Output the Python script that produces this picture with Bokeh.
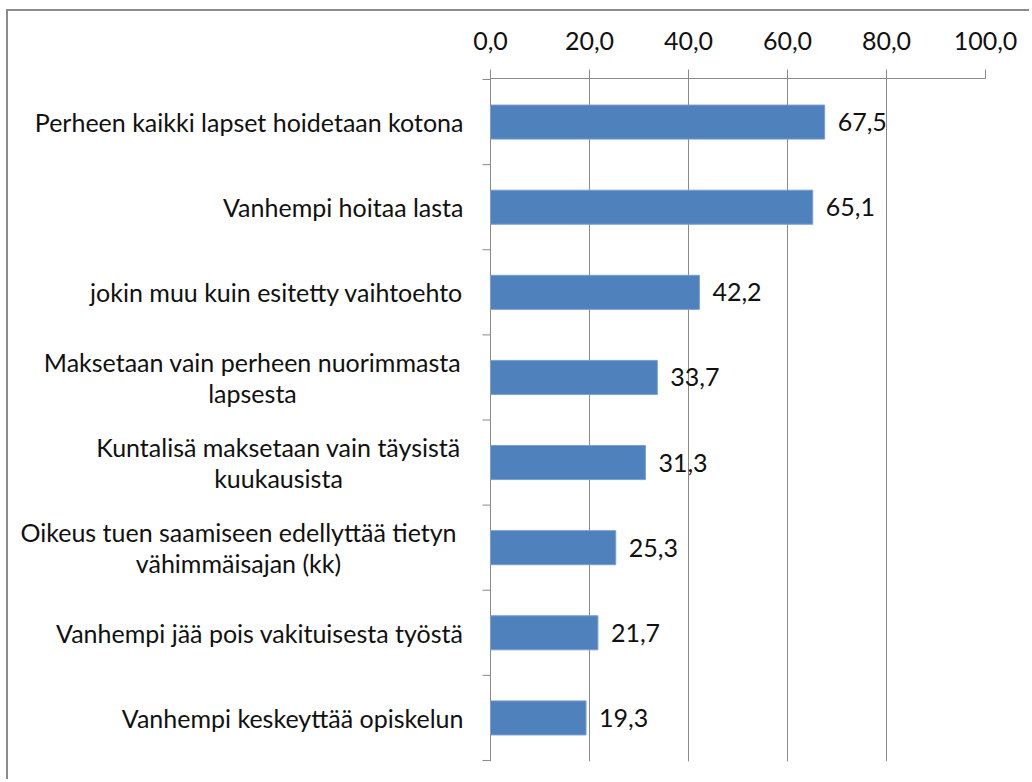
import math
from bokeh.plotting import figure
from bokeh.models import FixedTicker, Range1d
from bokeh.core.properties import value
from bokeh.embed import file_html
from bokeh.resources import INLINE

categories = [
    "Perheen kaikki lapset hoidetaan kotona",
    "Vanhempi hoitaa lasta",
    "jokin muu kuin esitetty vaihtoehto",
    "Maksetaan vain perheen nuorimmasta\nlapsesta",
    "Kuntalisä maksetaan vain täysistä\nkuukausista",
    "Oikeus tuen saamiseen edellyttää tietyn\nvähimmäisajan (kk)",
    "Vanhempi jää pois vakituisesta työstä",
    "Vanhempi keskeyttää opiskelun",
]
values = [67.5, 65.1, 42.2, 33.7, 31.3, 25.3, 21.7, 19.3]
x_ticks = [0, 20, 40, 60, 80, 100]

# layout (pixels)
W, H = 1023, 770
MB_RIGHT, MB_TOP, MB_BOTTOM = 46, 67, 20
AXIS_PX = 482                 # distance from frame left edge to the category axis (x = 0)
LABEL_GAP = 27                # gap between single-line category labels and the axis
WRAP_CENTER = {3: 238, 4: 212, 5: 252}   # centre of centre-justified wrapped labels, px left of axis

FONT = "Lato"
FS = "25px"
GRID = "#8a8a8a"
BAR = "#4F81BD"
TXT = "#111111"

n = len(categories)
centers = [i + 0.5 for i in range(n)]
bounds = [float(i) for i in range(n + 1)]

frame_w = W - MB_RIGHT
x_start = -x_ticks[-1] * AXIS_PX / (frame_w - AXIS_PX)
pad = 0.012

p = figure(
    width=W, height=H,
    x_range=Range1d(x_start, x_ticks[-1]), y_range=Range1d(n + pad, -pad),
    x_axis_location="above", y_axis_location=None,
    output_backend="svg", toolbar_location=None,
    min_border_left=0, min_border_right=MB_RIGHT,
    min_border_top=MB_TOP, min_border_bottom=MB_BOTTOM,
    styles={"margin-left": "6px", "margin-top": "9px",
            "border-top": "2px solid #8c8c8c", "border-left": "2px solid #8c8c8c"},
)
p.outline_line_color = None
p.background_fill_color = "white"
p.border_fill_color = "white"

# top value axis (line limited to the value range)
xa = p.xaxis[0]
xa.ticker = FixedTicker(ticks=x_ticks, minor_ticks=[])
xa.bounds = (x_ticks[0], x_ticks[-1])
xa.major_label_overrides = {t: f"{t:.1f}".replace(".", ",") for t in x_ticks}
xa.axis_line_color = GRID
xa.major_tick_line_color = GRID
xa.major_tick_out = 9
xa.major_tick_in = 0
xa.minor_tick_line_color = None
xa.major_label_standoff = 20
xa.major_label_text_font = FONT
xa.major_label_text_font_size = FS
xa.major_label_text_color = TXT

# vertical grid (the line at 0 doubles as the category axis line)
p.xgrid.ticker = FixedTicker(ticks=x_ticks)
p.xgrid.grid_line_color = GRID
p.ygrid.grid_line_color = None

# category axis ticks between categories
p.ray(x=[0] * len(bounds), y=bounds, length=8, length_units="screen",
      angle=math.pi, line_color=GRID, line_width=1)

# category labels
single = [i for i, c in enumerate(categories) if "\n" not in c]
wrapped = [i for i, c in enumerate(categories) if "\n" in c]
p.text(x=[0] * len(single), y=[centers[i] for i in single],
       text=[categories[i] for i in single], x_offset=-LABEL_GAP,
       text_align="right", text_baseline="middle",
       text_font=value(FONT), text_font_size=FS, text_color=TXT)
p.text(x=[0] * len(wrapped), y=[centers[i] for i in wrapped],
       text=[categories[i] for i in wrapped],
       x_offset=[-WRAP_CENTER[i] for i in wrapped],
       text_align="center", text_baseline="middle", text_line_height=1.05,
       text_font=value(FONT), text_font_size=FS, text_color=TXT)

# bars
p.hbar(y=centers, left=0, right=values, height=0.4,
       fill_color=BAR, line_color="#7A9FD0", line_width=1)

# value labels
labels = [f"{v:.1f}".replace(".", ",") for v in values]
p.text(x=values, y=centers, text=labels, x_offset=13,
       text_baseline="middle", text_align="left",
       text_font=value(FONT), text_font_size=FS, text_color=TXT)

open("out.html", "w").write(file_html(p, INLINE))
